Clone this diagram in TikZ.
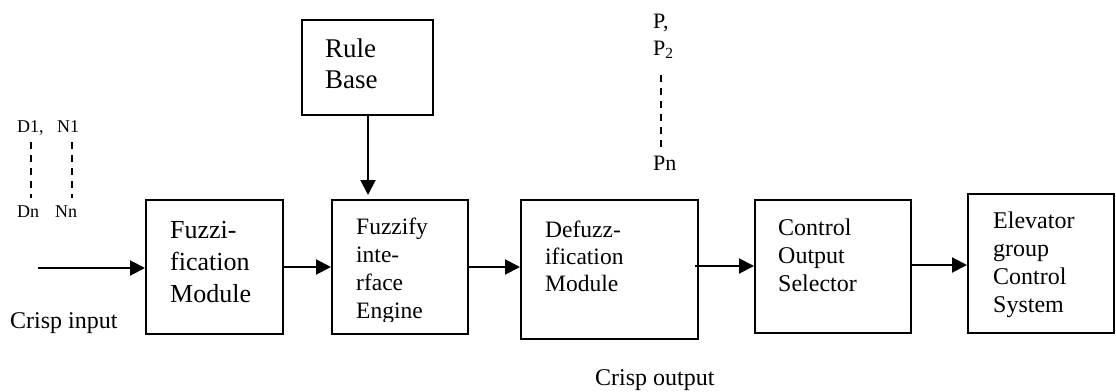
\documentclass[tikz,border=0pt]{standalone}
\usepackage{fontspec}
\setmainfont{Liberation Serif}
\usetikzlibrary{arrows.meta,fit}
\newcommand\myfs[2]{\fontsize{#1}{#2}\selectfont}
\tikzset{
  box/.style={draw=black, line width=2pt, inner sep=0pt, fill=white},
  txt/.style={anchor=base west, align=left, inner sep=0pt},
  arr/.style={line width=2pt, -{Triangle[length=15pt,width=15pt]}},
  dots/.style={line width=2pt, dash pattern=on 7pt off 6pt}
}
\begin{document}
\begin{tikzpicture}[x=1pt,y=-1pt]
\useasboundingbox (0,0) rectangle (1116,391);
\fill[white] (0,0) rectangle (1116,391);

% boxes
\node[box, fit={(302,20)(433,115)}] (rule) {};
\node[box, fit={(146,200)(283,334)}] (fuzzi) {};
\node[box, fit={(332,200)(468,334)}] (fuzzify) {};
\node[box, fit={(521,200)(698,339)}] (defuzz) {};
\node[box, fit={(755,200)(911,333)}] (control) {};
\node[box, fit={(968,194)(1114,333)}] (elev) {};

% box texts (anchored at the baseline of the last line)
\node[txt, font=\myfs{27}{31}] (rulet) at (325,88) {Rule\\Base};
\node[txt, font=\myfs{26}{32}] (fuzzit) at (170,302) {Fuzzi-\\fication\\Module};
\begin{scope}
\clip (332,200) rectangle (468,321);
\node[txt, font=\myfs{23.5}{27.7}] (fuzzifyt) at (356,318) {Fuzzify\\inte-\\rface\\Engine};
\end{scope}
\node[txt, font=\myfs{23.5}{27}] (defuzzt) at (545,291) {Defuzz-\\ification\\Module};
\node[txt, font=\myfs{24}{28}] (controlt) at (778,291) {Control\\Output\\Selector};
\node[txt, font=\myfs{24}{27.7}] (elevt) at (993,312) {Elevator\\group\\Control\\System};

% side labels
\node[txt, font=\myfs{24}{28}] (cin) at (10,328) {Crisp input};
\node[txt, font=\myfs{24}{28}] (cout) at (595,385) {Crisp output};

\node[txt, font=\myfs{18}{20}] (d1) at (17,132) {D1,};
\node[txt, font=\myfs{18}{20}] (n1) at (57,132) {N1};
\node[txt, font=\myfs{18}{20}] (dn) at (17,217) {Dn};
\node[txt, font=\myfs{18}{20}] (nn) at (55,217) {Nn};

\node[txt, font=\myfs{22}{26}] (p1) at (653,28) {P,};
\node[txt, font=\myfs{22}{26}] (p2) at (653,55) {P\textsubscript{2}};
\node[txt, font=\myfs{22}{26}] (pn) at (653,170) {Pn};

% vertical dashed lines
\draw[dots] (31,142) -- (31,198);
\draw[dots] (72,142) -- (72,198);
\draw[dots] (661,75) -- (661,147);

% connectors
\coordinate (inp) at (38,268);
\draw[arr] (inp) -- (inp -| fuzzi.west);
\draw[arr] (fuzzi.east) -- (fuzzi.east -| fuzzify.west);
\draw[arr] (fuzzify.east) -- (fuzzify.east -| defuzz.west);
\draw[arr] ([xshift=-4pt]defuzz.east |- 0,266) -- (control.west |- 0,266);
\draw[arr] (control.east |- 0,265) -- (elev.west |- 0,265);
\draw[arr, shorten >=4pt] ([xshift=0.5pt]rule.south) -- ([xshift=0.5pt]rule.south |- fuzzify.north);
\end{tikzpicture}
\end{document}
